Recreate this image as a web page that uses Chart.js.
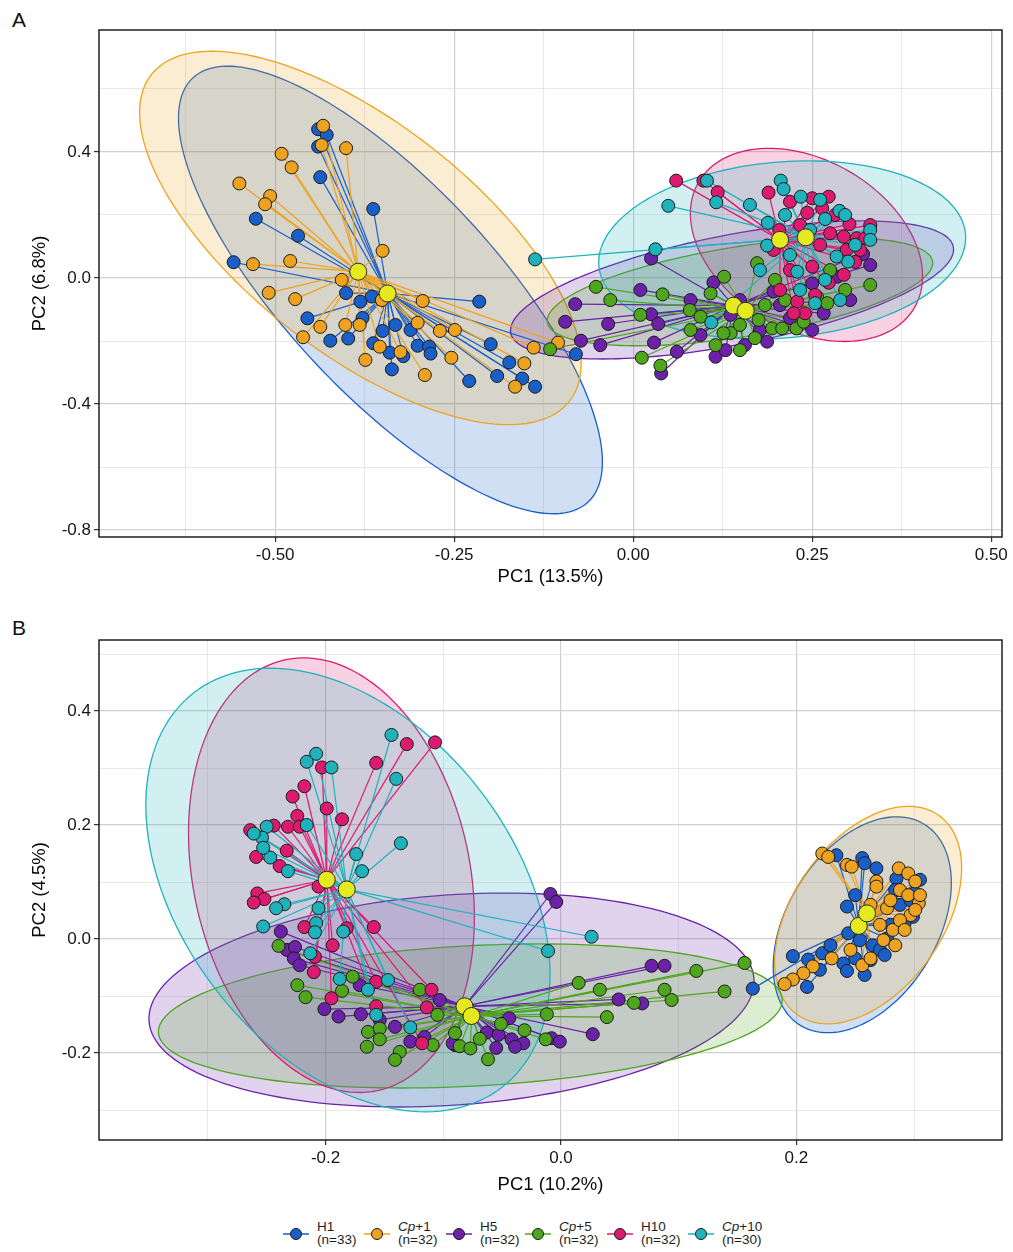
<!DOCTYPE html>
<html>
<head>
<meta charset="utf-8">
<script src="https://cdn.jsdelivr.net/npm/chart.js@4.4.1/dist/chart.umd.min.js"></script>
<style>
  body { margin: 0; background: #fff; width: 1013px; height: 1252px; position: relative; overflow: hidden;
         font-family: "Liberation Sans", Arial, sans-serif; }
  canvas { position: absolute; left: 0; }
  #cA { top: 0; }
  #cB { top: 600px; }
  .tag { position: absolute; left: 12px; font-size: 21px; color: #111; }
  .item { position: absolute; top: 1221px; display: flex; align-items: center; font-size: 13.5px; line-height: 12.5px; color: #1e1e1e; }
  .item svg { margin-right: 8px; }
</style>
</head>
<body>
<div class="tag" style="top:8px">A</div>
<div class="tag" style="top:616px">B</div>
<canvas id="cA" width="1013" height="600"></canvas>
<canvas id="cB" width="1013" height="600"></canvas>
<div id="legend"></div>
<script>
// groups and colours
const groups = ['H1', 'Cp+1', 'H5', 'Cp+5', 'H10', 'Cp+10'];
const groupN = [33, 32, 32, 32, 32, 30];
const colors = ['#1a5fc8', '#eda31f', '#6b22a8', '#4fa61d', '#dc1a70', '#1fb2bc'];

// ---- panel A data (PC1, PC2) ----
const A_H1 = [[-0.440,0.472],[-0.428,0.454],[-0.440,0.417],[-0.437,0.320],[-0.363,0.219],[-0.527,0.188],[-0.468,0.134],
  [-0.558,0.050],[-0.401,-0.048],[-0.381,-0.075],[-0.365,-0.059],[-0.455,-0.128],[-0.423,-0.199],[-0.398,-0.192],
  [-0.350,-0.168],[-0.363,-0.207],[-0.340,-0.237],[-0.321,-0.248],[-0.337,-0.290],[-0.301,-0.215],[-0.285,-0.218],
  [-0.283,-0.240],[-0.311,-0.165],[-0.215,-0.075],[-0.199,-0.210],[-0.229,-0.327],[-0.173,-0.268],[-0.190,-0.311],
  [-0.155,-0.319],[-0.137,-0.345],[-0.080,-0.242],[-0.378,-0.127],[-0.332,-0.149]];
const A_Cp1 = [[-0.433,0.483],[-0.435,0.422],[-0.491,0.394],[-0.401,0.412],[-0.477,0.351],[-0.550,0.300],[-0.507,0.260],
  [-0.514,0.234],[-0.350,0.086],[-0.531,0.044],[-0.479,0.054],[-0.407,-0.006],[-0.509,-0.047],[-0.472,-0.067],
  [-0.437,-0.155],[-0.402,-0.149],[-0.382,-0.149],[-0.461,-0.188],[-0.354,-0.218],[-0.374,-0.260],[-0.294,-0.073],
  [-0.301,-0.142],[-0.291,-0.308],[-0.254,-0.253],[-0.270,-0.168],[-0.152,-0.271],[-0.165,-0.345],[-0.139,-0.221],
  [-0.105,-0.205],[-0.351,-0.070],[-0.249,-0.165],[-0.325,-0.235]];
const A_H5 = [[-0.095,-0.139],[-0.081,-0.083],[-0.073,-0.199],[-0.035,-0.146],[0.025,-0.115],[0.035,-0.146],[0.029,-0.205],
  [0.061,-0.234],[0.115,-0.250],[0.039,-0.303],[0.025,0.062],[0.112,-0.014],[0.196,-0.043],[0.285,0.004],[0.321,0.076],
  [0.266,-0.112],[0.187,-0.202],[0.250,-0.017],[0.177,-0.165],[0.156,-0.213],[0.219,-0.127],[0.136,-0.117],[0.094,-0.181],
  [0.080,-0.070],[0.303,-0.070],[0.205,-0.086],[0.250,-0.165],[0.331,0.041],[0.149,-0.070],[0.129,-0.229],[0.010,-0.038],
  [-0.046,-0.213]];
const A_Cp5 = [[-0.116,-0.226],[-0.052,-0.028],[-0.032,-0.070],[0.041,-0.052],[0.012,-0.253],[0.038,-0.278],[0.127,0.004],
  [0.108,-0.049],[0.079,-0.102],[0.094,-0.123],[0.136,-0.175],[0.126,-0.175],[0.170,-0.191],[0.173,0.047],[0.198,-0.006],
  [0.257,-0.060],[0.271,-0.080],[0.194,-0.160],[0.208,-0.160],[0.228,-0.160],[0.149,-0.149],[0.238,-0.139],[0.175,-0.133],
  [0.296,-0.038],[0.331,-0.022],[0.080,-0.165],[0.115,-0.213],[0.010,-0.117],[0.184,-0.086],[0.212,-0.070],[0.275,0.025],
  [0.149,-0.229]];
const A_H10 = [[0.060,0.309],[0.098,0.309],[0.118,0.272],[0.189,0.271],[0.219,0.242],[0.250,0.253],[0.273,0.258],
  [0.264,0.221],[0.243,0.207],[0.302,0.171],[0.312,0.126],[0.324,0.126],[0.275,0.142],[0.294,0.131],[0.298,0.089],
  [0.196,0.089],[0.250,0.036],[0.294,0.010],[0.273,-0.015],[0.229,-0.075],[0.240,-0.112],[0.224,-0.112],[0.204,0.152],
  [0.233,0.168],[0.282,0.200],[0.317,0.089],[0.261,0.105],[0.205,-0.038],[0.254,-0.054],[0.219,0.025],[0.310,0.051],
  [0.331,0.168]];
const A_Cp10 = [[-0.137,0.059],[0.103,0.309],[0.116,0.240],[0.049,0.229],[0.031,0.091],[0.109,-0.141],[0.206,0.309],
  [0.210,0.282],[0.234,0.258],[0.288,0.213],[0.268,0.187],[0.188,0.175],[0.331,0.152],[0.187,0.103],[0.300,0.052],
  [0.284,0.068],[0.229,0.020],[0.254,-0.080],[0.310,0.105],[0.247,0.152],[0.219,0.073],[0.268,-0.006],[0.296,0.200],
  [0.177,0.025],[0.233,-0.038],[0.289,-0.070],[0.331,0.121],[0.212,0.200],[0.261,0.248],[0.163,0.232]];
const A_centroids = [[-0.343,-0.049],[-0.384,0.020],[0.140,-0.088],[0.157,-0.104],[0.205,0.121],[0.241,0.129]];
// confidence ellipses: centre and two semi-axis vectors, data units
const A_ellCentre = [[-0.339,-0.038],[-0.381,0.127],[0.138,-0.038],[0.149,-0.044],[0.242,0.105],[0.208,0.089]];
const A_ellAxis1 = [[0.276,-0.673],[0.292,-0.518],[0.309,0.137],[0.269,0.097],[0.151,-0.198],[0.256,0.051]];
const A_ellAxis2 = [[-0.107,-0.227],[-0.099,-0.288],[0.015,-0.171],[0.010,-0.141],[-0.059,-0.234],[0.011,-0.278]];

// ---- panel B data (PC1, PC2) ----
const B_H1 = [[0.234,0.147],[0.256,0.142],[0.258,0.133],[0.268,0.124],[0.305,0.104],[0.301,0.081],[0.292,0.028],
  [0.243,0.057],[0.244,0.010],[0.197,-0.030],[0.210,-0.036],[0.222,-0.025],[0.240,-0.043],[0.243,-0.056],[0.250,-0.034],
  [0.265,-0.011],[0.277,0.001],[0.209,-0.084],[0.163,-0.087],[0.299,0.039],[0.285,0.106],[0.288,0.060],[0.271,-0.019],
  [0.258,-0.063],[0.229,-0.011],[0.280,0.025],[0.297,0.068],[0.254,-0.002],[0.284,0.086],[0.263,-0.037],[0.220,-0.054],
  [0.275,-0.028],[0.250,0.077]];
const B_Cp1 = [[0.222,0.150],[0.227,0.144],[0.243,0.130],[0.247,0.127],[0.287,0.124],[0.295,0.115],[0.301,0.101],
  [0.268,0.101],[0.268,0.092],[0.288,0.086],[0.295,0.077],[0.304,0.063],[0.277,0.054],[0.297,0.042],[0.282,0.016],
  [0.230,-0.034],[0.214,-0.048],[0.206,-0.060],[0.197,-0.071],[0.190,-0.079],[0.256,-0.046],[0.263,-0.034],[0.274,-0.002],
  [0.288,0.033],[0.301,0.051],[0.280,0.068],[0.271,0.025],[0.292,0.016],[0.263,0.060],[0.246,-0.019],[0.284,-0.011],
  [0.305,0.077]];
const B_H5 = [[-0.238,0.013],[-0.233,-0.019],[-0.226,-0.014],[-0.227,-0.034],[-0.171,-0.081],[-0.201,-0.123],[-0.189,-0.136],
  [-0.170,-0.132],[-0.141,-0.154],[-0.128,-0.180],[-0.116,-0.172],[-0.090,-0.186],[-0.009,0.079],[-0.004,0.065],[0.077,-0.047],
  [0.088,-0.047],[0.049,-0.106],[0.069,-0.113],[0.027,-0.167],[-0.008,-0.174],[-0.001,-0.180],[-0.063,-0.164],[-0.053,-0.168],
  [-0.042,-0.176],[-0.032,-0.183],[-0.039,-0.189],[-0.055,-0.191],[-0.092,-0.183],[-0.044,-0.139],[-0.222,-0.046],
  [-0.154,-0.142],[-0.103,-0.107]];
const B_Cp5 = [[-0.240,-0.012],[-0.224,-0.081],[-0.217,-0.102],[-0.186,-0.091],[-0.177,-0.066],[-0.120,-0.089],[-0.164,-0.163],
  [-0.154,-0.157],[-0.154,-0.176],[-0.165,-0.189],[-0.109,-0.186],[-0.086,-0.188],[-0.077,-0.192],[0.115,-0.056],[0.015,-0.077],
  [0.088,-0.089],[0.094,-0.107],[0.139,-0.092],[0.062,-0.112],[-0.012,-0.132],[0.039,-0.137],[-0.013,-0.176],[-0.031,-0.160],
  [-0.062,-0.211],[-0.051,-0.149],[-0.090,-0.165],[-0.137,-0.198],[-0.141,-0.212],[0.156,-0.042],[0.033,-0.089],
  [-0.105,-0.133],[-0.069,-0.175]];
const B_H10 = [[-0.131,0.342],[-0.107,0.345],[-0.157,0.309],[-0.203,0.301],[-0.218,0.268],[-0.228,0.250],[-0.199,0.229],
  [-0.186,0.210],[-0.224,0.216],[-0.232,0.197],[-0.222,0.197],[-0.244,0.199],[-0.264,0.191],[-0.233,0.155],[-0.259,0.144],
  [-0.258,0.080],[-0.252,0.070],[-0.261,0.064],[-0.206,0.092],[-0.218,0.021],[-0.182,0.019],[-0.159,0.021],[-0.209,-0.031],
  [-0.210,-0.058],[-0.194,-0.011],[-0.195,-0.104],[-0.157,-0.075],[-0.157,-0.118],[-0.110,-0.089],[-0.114,-0.120],
  [-0.118,-0.183],[-0.239,0.128]];
const B_Cp10 = [[-0.144,0.358],[-0.140,0.281],[-0.208,0.325],[-0.216,0.311],[-0.195,0.301],[-0.250,0.197],[-0.254,0.178],
  [-0.261,0.185],[-0.216,0.200],[-0.247,0.143],[-0.232,0.119],[-0.174,0.149],[-0.169,0.119],[-0.136,0.168],[-0.235,0.061],
  [-0.242,0.054],[-0.206,0.054],[-0.253,0.022],[-0.208,0.028],[-0.185,0.013],[-0.209,0.012],[-0.213,-0.025],[-0.188,-0.070],
  [-0.164,-0.089],[-0.147,-0.072],[-0.157,-0.133],[-0.128,-0.155],[0.026,0.004],[-0.011,-0.021],[-0.253,0.160]];
const B_centroids = [[0.253,0.023],[0.260,0.045],[-0.082,-0.118],[-0.076,-0.135],[-0.199,0.104],[-0.182,0.087]];
const B_ellCentre = [[0.256,0.025],[0.261,0.042],[-0.093,-0.107],[-0.077,-0.135],[-0.195,0.112],[-0.181,0.086]];
const B_ellAxis1 = [[0.053,0.176],[0.060,0.175],[0.257,0.037],[0.265,0.029],[0.039,-0.378],[0.131,-0.346]];
const B_ellAxis2 = [[0.054,-0.070],[0.052,-0.076],[0.006,-0.184],[0.003,-0.123],[-0.115,-0.050],[-0.111,-0.178]];

// axis ticks
const A_xMajor = [-0.5, -0.25, 0, 0.25, 0.5];
const A_xLabels = ['-0.50', '-0.25', '0.00', '0.25', '0.50'];
const A_xMinor = [-0.625, -0.375, -0.125, 0.125, 0.375];
const A_yMajor = [-0.8, -0.4, 0, 0.4];
const A_yLabels = ['-0.8', '-0.4', '0.0', '0.4'];
const A_yMinor = [-0.6, -0.2, 0.2, 0.6];
const B_xMajor = [-0.2, 0, 0.2];
const B_xLabels = ['-0.2', '0.0', '0.2'];
const B_xMinor = [-0.3, -0.1, 0.1, 0.3];
const B_yMajor = [-0.2, 0, 0.2, 0.4];
const B_yLabels = ['-0.2', '0.0', '0.2', '0.4'];
const B_yMinor = [-0.3, -0.1, 0.1, 0.3, 0.5];

function hexA(hex, a) {
  const n = parseInt(hex.slice(1), 16);
  return `rgba(${n >> 16},${(n >> 8) & 255},${n & 255},${a})`;
}

const pcaPlugin = {
  id: 'pca',
  beforeDatasetsDraw(chart) {
    const p = chart.options.plugins.pca;
    const ctx = chart.ctx, xs = chart.scales.x, ys = chart.scales.y, area = chart.chartArea;
    ctx.save();
    ctx.beginPath();
    ctx.rect(area.left, area.top, area.right - area.left, area.bottom - area.top);
    ctx.clip();
    // ellipses
    p.centre.forEach((c, g) => {
      const u = p.axis1[g], v = p.axis2[g];
      ctx.beginPath();
      for (let k = 0; k <= 160; k++) {
        const t = k / 160 * Math.PI * 2;
        const px = xs.getPixelForValue(c[0] + u[0] * Math.cos(t) + v[0] * Math.sin(t));
        const py = ys.getPixelForValue(c[1] + u[1] * Math.cos(t) + v[1] * Math.sin(t));
        if (k === 0) ctx.moveTo(px, py); else ctx.lineTo(px, py);
      }
      ctx.closePath();
      ctx.fillStyle = hexA(colors[g], 0.2);
      ctx.fill();
      ctx.strokeStyle = colors[g];
      ctx.lineWidth = 1.3;
      ctx.stroke();
    });
    // spokes to group centroids
    p.points.forEach((pts, g) => {
      const cx = xs.getPixelForValue(p.centroids[g][0]);
      const cy = ys.getPixelForValue(p.centroids[g][1]);
      ctx.strokeStyle = colors[g];
      ctx.lineWidth = 1.2;
      pts.forEach(pt => {
        ctx.beginPath();
        ctx.moveTo(cx, cy);
        ctx.lineTo(xs.getPixelForValue(pt[0]), ys.getPixelForValue(pt[1]));
        ctx.stroke();
      });
    });
    ctx.restore();
  },
  afterDraw(chart) {
    const a = chart.chartArea, ctx = chart.ctx;
    ctx.save();
    ctx.strokeStyle = '#111';
    ctx.lineWidth = 1.4;
    ctx.strokeRect(a.left, a.top, a.right - a.left, a.bottom - a.top);
    ctx.restore();
  }
};

function axis(min, max, major, minor, labels, title, isX, size) {
  const isMajor = v => major.some(m => Math.abs(m - v) < 1e-9);
  return {
    type: 'linear', min: min, max: max,
    afterBuildTicks: s => { s.ticks = major.concat(minor).sort((a, b) => a - b).map(v => ({ value: v })); },
    afterFit: s => { if (isX) s.height = size; else s.width = size; },
    ticks: {
      autoSkip: false, maxRotation: 0, padding: 3, color: '#141414',
      font: { family: '"Liberation Sans", Arial, sans-serif', size: 17 },
      callback: v => { const i = major.findIndex(m => Math.abs(m - v) < 1e-9); return i >= 0 ? labels[i] : ''; }
    },
    grid: {
      color: c => c.tick && isMajor(c.tick.value) ? '#d0d0d0' : '#e2e2e2',
      lineWidth: c => c.tick && isMajor(c.tick.value) ? 1.2 : 0.8,
      tickLength: 5,
      tickColor: c => c.tick && isMajor(c.tick.value) ? '#333' : 'rgba(0,0,0,0)'
    },
    border: { display: false },
    title: { display: true, text: title, color: '#0a0a0a', padding: { top: 4, bottom: 4 },
             font: { family: '"Liberation Sans", Arial, sans-serif', size: 18.5 } }
  };
}

function makePanel(id, d) {
  const datasets = [{
    data: d.centroids.map(p => ({ x: p[0], y: p[1] })),
    backgroundColor: '#e5e91f', borderColor: '#2a2a2a', borderWidth: 1, pointRadius: 8.5, order: 0
  }];
  d.points.forEach((pts, g) => datasets.push({
    label: groups[g],
    data: pts.map(p => ({ x: p[0], y: p[1] })),
    backgroundColor: colors[g], borderColor: '#1b1b1b', borderWidth: 1, pointRadius: 6.5,
    order: groups.length - g
  }));
  new Chart(document.getElementById(id), {
    type: 'scatter',
    data: { datasets: datasets },
    options: {
      responsive: false, animation: false, events: [],
      layout: { padding: d.padding },
      scales: {
        x: axis(d.xRange[0], d.xRange[1], d.xMajor, d.xMinor, d.xLabels, d.xTitle, true, d.xAxisH),
        y: axis(d.yRange[0], d.yRange[1], d.yMajor, d.yMinor, d.yLabels, d.yTitle, false, 74)
      },
      plugins: {
        legend: { display: false }, tooltip: { enabled: false },
        pca: { points: d.points, centroids: d.centroids, centre: d.centre, axis1: d.axis1, axis2: d.axis2 }
      }
    },
    plugins: [pcaPlugin]
  });
}

makePanel('cA', {
  points: [A_H1, A_Cp1, A_H5, A_Cp5, A_H10, A_Cp10], centroids: A_centroids,
  centre: A_ellCentre, axis1: A_ellAxis1, axis2: A_ellAxis2,
  xRange: [-0.746, 0.515], yRange: [-0.822, 0.787],
  xMajor: A_xMajor, xMinor: A_xMinor, xLabels: A_xLabels,
  yMajor: A_yMajor, yMinor: A_yMinor, yLabels: A_yLabels,
  xTitle: 'PC1 (13.5%)', yTitle: 'PC2 (6.8%)',
  padding: { left: 25, right: 11, top: 30, bottom: 8 }, xAxisH: 55
});

makePanel('cB', {
  points: [B_H1, B_Cp1, B_H5, B_Cp5, B_H10, B_Cp10], centroids: B_centroids,
  centre: B_ellCentre, axis1: B_ellAxis1, axis2: B_ellAxis2,
  xRange: [-0.3925, 0.3747], yRange: [-0.3526, 0.5246],
  xMajor: B_xMajor, xMinor: B_xMinor, xLabels: B_xLabels,
  yMajor: B_yMajor, yMinor: B_yMinor, yLabels: B_yLabels,
  xTitle: 'PC1 (10.2%)', yTitle: 'PC2 (4.5%)',
  padding: { left: 25, right: 11, top: 40, bottom: 0 }, xAxisH: 60
});

// legend
const legend = document.getElementById('legend');
const legendLeft = [283, 364, 446, 525, 607, 688];
groups.forEach((g, i) => {
  const el = document.createElement('div');
  el.className = 'item';
  el.style.left = legendLeft[i] + 'px';
  const name = g.startsWith('Cp') ? '<i>Cp</i>' + g.slice(2) : g;
  el.innerHTML = `<svg width="26" height="14"><line x1="0" y1="7" x2="26" y2="7" stroke="${colors[i]}" stroke-width="1.5"/>` +
    `<circle cx="13" cy="7" r="5.5" fill="${colors[i]}" stroke="#1b1b1b" stroke-width="1"/></svg>` +
    `<div>${name}<br>(n=${groupN[i]})</div>`;
  legend.appendChild(el);
});
</script>
</body>
</html>
